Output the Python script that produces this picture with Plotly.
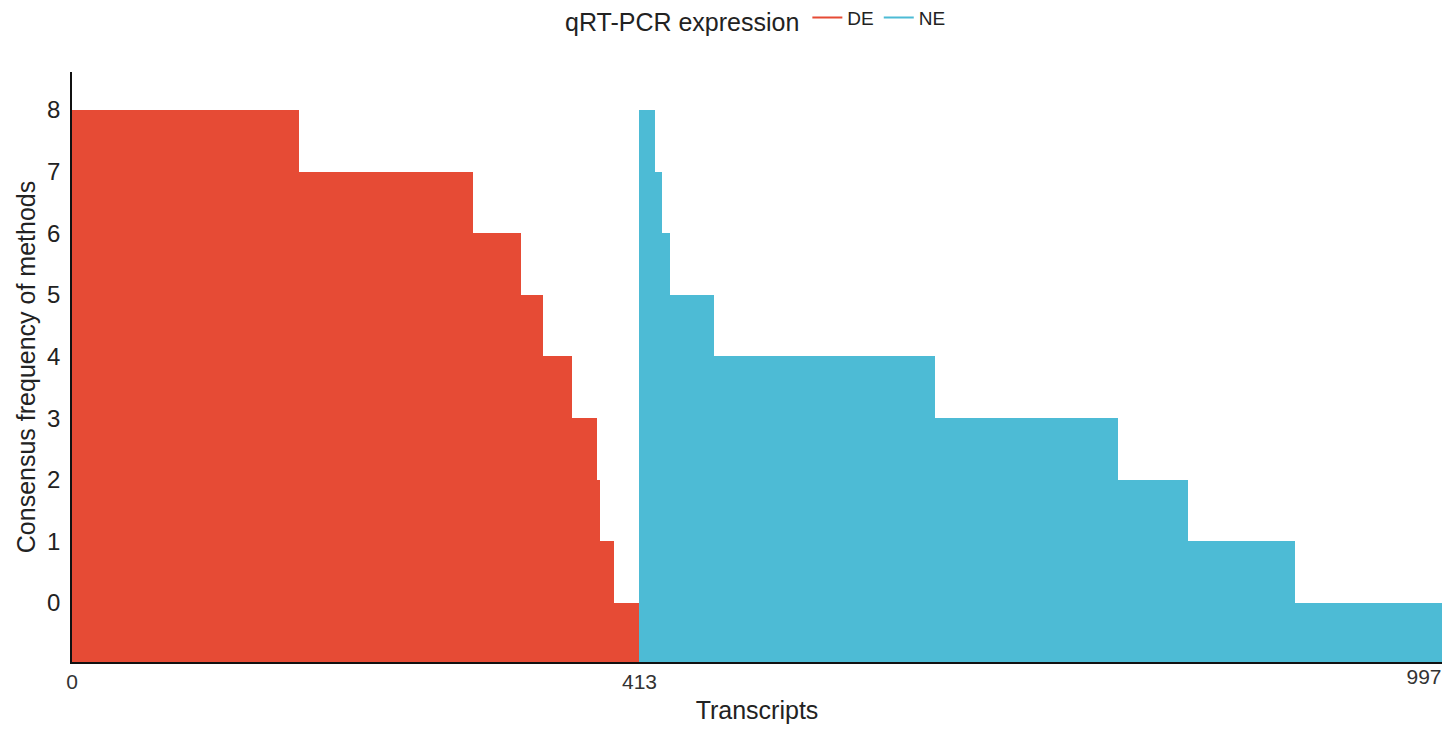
import numpy as np
import plotly.graph_objects as go

# Consensus frequency levels and number of transcripts at each level
de_levels = [8, 7, 6, 5, 4, 3, 2, 1, 0]
de_counts = [165, 127, 35, 16, 21, 18, 2, 10, 19]
ne_levels = [8, 7, 6, 5, 4, 3, 2, 1, 0]
ne_counts = [11, 5, 6, 32, 161, 133, 51, 78, 107]

groups = ["DE", "NE"]
colors = {"DE": "#E64B35", "NE": "#4DBBD5"}
x_tick_vals = [0, 413]
x_end_tick = [997]
y_tick_vals = [0, 1, 2, 3, 4, 5, 6, 7, 8]

BASE = -1.0

de_vals = np.repeat(de_levels, de_counts)
ne_vals = np.repeat(ne_levels, ne_counts)
n_de = len(de_vals)
n_ne = len(ne_vals)
n_total = n_de + n_ne
de_x = np.arange(n_de) + 0.5
ne_x = np.arange(n_de, n_total) + 0.5

FONT = "Liberation Sans, Arial, Helvetica, sans-serif"

fig = go.Figure()
for name, xs, vals in [("DE", de_x, de_vals), ("NE", ne_x, ne_vals)]:
    fig.add_trace(go.Bar(
        x=xs, y=vals - BASE, base=BASE, width=1.0,
        marker=dict(color=colors[name], line=dict(width=0)),
        showlegend=False, name=name,
    ))
for name in groups:
    fig.add_trace(go.Scatter(
        x=[None], y=[None], mode="lines", name=name, xaxis="x2",
        line=dict(color=colors[name], width=2),
    ))

fig.update_layout(
    width=1440, height=716,
    margin=dict(l=64, r=6, t=64, b=62, autoexpand=False),
    paper_bgcolor="white", plot_bgcolor="white",
    font=dict(family=FONT, color="#222222"),
    barmode="overlay", bargap=0,
    legend=dict(
        orientation="h", x=0.5, xanchor="center", y=1.088, yanchor="middle",
        title=dict(text="qRT-PCR expression", font=dict(size=25, color="#222222")),
        font=dict(size=19, color="#222222"),
        itemwidth=30,
    ),
    xaxis=dict(
        range=[0, n_total], tickmode="array", tickvals=x_tick_vals,
        showgrid=False, zeroline=False, showline=True, linecolor="#111111", linewidth=2,
        ticks="", tickfont=dict(size=21, color="#333333"),
        title=dict(text="Transcripts", font=dict(size=25, color="#222222"), standoff=18),
        automargin=False,
    ),
    xaxis2=dict(
        overlaying="x", anchor="y", side="bottom", matches="x",
        range=[0, n_total], tickmode="array", tickvals=x_end_tick,
        showgrid=False, zeroline=False, showline=False,
        ticks="", tickfont=dict(size=21, color="#333333"), ticklabelshift=-18,
        automargin=False,
    ),
    yaxis=dict(
        range=[-0.958, 8.617], tickmode="array", tickvals=y_tick_vals,
        showgrid=False, zeroline=False, showline=True, linecolor="#111111", linewidth=1.5,
        ticks="outside", ticklen=5, tickcolor="rgba(0,0,0,0)",
        tickfont=dict(size=24, color="#222222"),
        title=dict(text="Consensus frequency of methods", font=dict(size=25, color="#222222"), standoff=4),
        automargin=False,
    ),
)

fig.write_html("out.html")
